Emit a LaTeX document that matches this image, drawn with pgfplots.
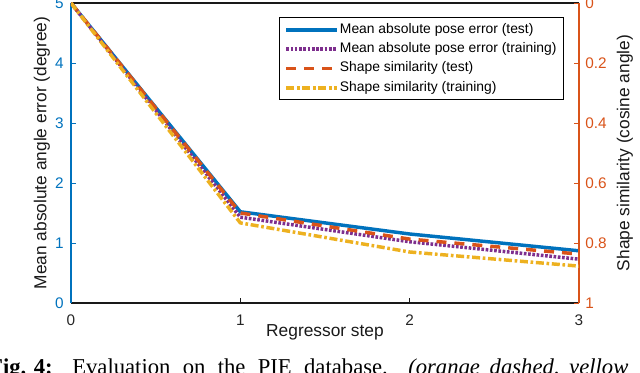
\documentclass[border=0pt]{standalone}
\usepackage{pgfplots}
\pgfplotsset{compat=1.18}
\usepackage{fontspec}
\setmainfont{Liberation Sans}
\newfontfamily\capfont{Liberation Serif}

\definecolor{mblue}{RGB}{0,114,189}
\definecolor{morange}{RGB}{217,83,25}
\definecolor{myellow}{RGB}{237,177,32}
\definecolor{mpurple}{RGB}{126,47,142}

\pgfplotsset{
  base/.style={
    scale only axis, width=381pt, height=225pt,
    xmin=0, xmax=3, xtick={0,1,2,3},
    /pgf/number format/assume math mode=true,
    tick align=inside, major tick length=3.75pt,
    tick style={line width=0.6pt},
    ticklabel style={font=\fontsize{11.5}{13}\selectfont},
    every axis plot/.append style={line width=2.6pt, line join=round},
  },
  pstest/.style={mblue},
  pstrain/.style={mpurple, dash pattern=on 2pt off 1.2pt},
  sstest/.style={morange, dash pattern=on 7.5pt off 6pt},
  sstrain/.style={myellow, dash pattern=on 6pt off 2pt on 2pt off 2pt},
}

\begin{document}
\begin{tikzpicture}
% left axis: pose error
\begin{axis}[base,
  ymin=0, ymax=5, ytick={0,1,2,3,4,5},
  separate axis lines,
  x axis line style={black!90, line width=0.8pt},
  y axis line style={mblue, line width=0.8pt},
  xtick pos=bottom, ytick pos=left,
  xtick style={black!90}, ytick style={mblue},
  yticklabel style={mblue, anchor=east, inner sep=0pt, xshift=-5.25pt},
  xticklabel style={black!85, anchor=base, inner sep=0pt, yshift=-17.25pt},
  legend style={at={(0.409,0.952)}, anchor=north west,
    font=\fontsize{10.4}{12}\selectfont, draw=black, line width=0.6pt,
    inner xsep=4pt, inner ysep=4pt, row sep=4.5pt,
    nodes={inner xsep=1pt, inner ysep=0pt, text height=7.5pt, text depth=2.5pt}},
  legend cell align=left,
  legend image code/.code={\draw[#1, line width=2.6pt] (0pt,0pt) -- (38pt,0pt);},
]
\addplot[pstest] coordinates {(0,5) (1,1.52) (2,1.15) (3,0.87)};
\addplot[pstrain] coordinates {(0,5) (1,1.43) (2,1.02) (3,0.73)};
\addlegendimage{sstest}
\addlegendimage{sstrain}
\legend{Mean absolute pose error (test),Mean absolute pose error (training),
  Shape similarity (test),Shape similarity (training)}
\end{axis}
% right axis: shape similarity
\begin{axis}[base,
  ymin=0, ymax=1, y dir=reverse,
  axis y line*=right, axis x line=none,
  ytick={0,0.2,0.4,0.6,0.8,1}, yticklabels={0,0.2,0.4,0.6,0.8,1},
  axis line style={morange, line width=0.8pt},
  ytick style={morange},
  yticklabel style={morange, anchor=west, inner sep=0pt, xshift=4.5pt},
]
\addplot[sstest] coordinates {(0,0) (1,0.70) (2,0.787) (3,0.837)};
\addplot[sstrain] coordinates {(0,0) (1,0.733) (2,0.83) (3,0.877)};
\end{axis}

\node[rotate=90, font=\fontsize{13}{15}\selectfont, black!90] at (-21.75pt,112.5pt)
  {Mean absolute angle error (degree)};
\node[rotate=90, font=\fontsize{13}{15}\selectfont, black!90] at (415.5pt,112.5pt)
  {Shape similarity (cosine angle)};
\node[anchor=base, font=\fontsize{13}{15}\selectfont, black!90] at (190.5pt,-25.5pt)
  {Regressor step};

% caption of the figure, cut off at the edges as in the source
\node[anchor=base east, inner sep=0pt, font=\capfont\fontsize{17}{20}\selectfont] at (-13.5pt,-54pt)
  {\textbf{Fig. 4:}};
\node[anchor=base west, inner sep=0pt, font=\capfont\fontsize{17}{20}\selectfont] at (0.75pt,-54pt)
  {\spaceskip=9.25pt Evaluation on the PIE database.};
\node[anchor=base west, inner sep=0pt, font=\capfont\fontsize{17}{20}\selectfont] at (252.75pt,-54pt)
  {\itshape\spaceskip=7.25pt (orange dashed, yellow};

\pgfresetboundingbox
\useasboundingbox (-53.25pt,-52.5pt) rectangle (426.75pt,227.25pt);
\end{tikzpicture}
\end{document}
